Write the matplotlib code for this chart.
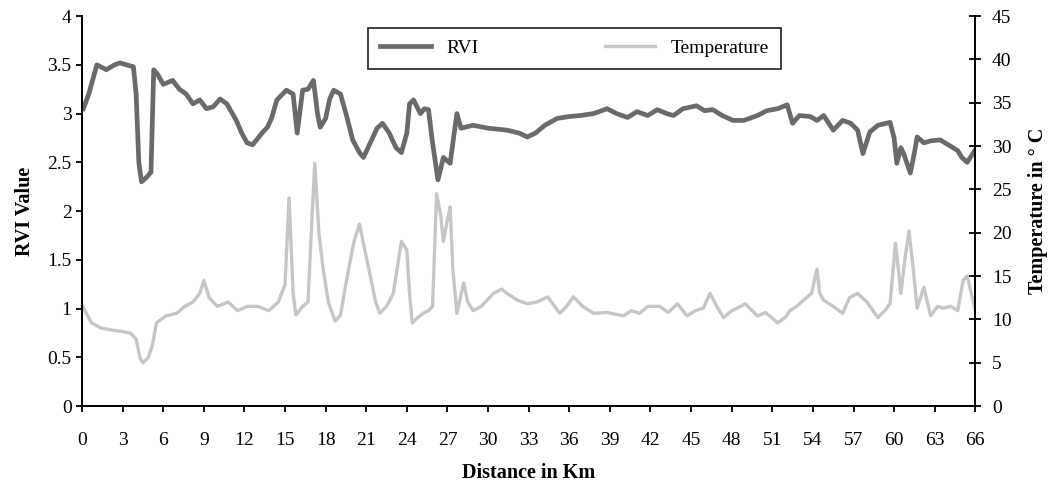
import matplotlib
matplotlib.use('Agg')
import matplotlib.pyplot as plt

# RVI along the route (left axis)
rvi_km = [0.1, 0.5, 1.1, 1.8, 2.4, 2.8, 3.3, 3.8, 4.0, 4.2, 4.4, 4.8, 5.1, 5.3, 5.6,
          6.0, 6.7, 7.2, 7.7, 8.2, 8.7, 9.2, 9.7, 10.2, 10.7, 11.4, 11.8, 12.2, 12.6,
          12.9, 13.3, 13.7, 14.0, 14.4, 15.1, 15.6, 15.9, 16.3, 16.7, 17.1, 17.4,
          17.6, 18.0, 18.3, 18.6, 19.1, 19.6, 20.0, 20.5, 20.8, 21.3, 21.8, 22.2,
          22.7, 23.2, 23.6, 24.0, 24.2, 24.5, 25.0, 25.3, 25.6, 25.9, 26.3, 26.7,
          27.2, 27.5, 27.7, 28.0, 28.9, 30.0, 31.4, 32.3, 32.9, 33.5, 34.2, 35.1,
          36.0, 36.8, 37.8, 38.8, 39.5, 40.3, 41.0, 41.8, 42.5, 43.2, 43.7, 44.4,
          45.4, 46.0, 46.6, 47.3, 48.1, 48.9, 49.9, 50.6, 51.4, 52.1, 52.5, 53.0,
          53.8, 54.3, 54.8, 55.5, 56.2, 56.8, 57.3, 57.7, 58.2, 58.8, 59.7, 60.0,
          60.2, 60.5, 60.7, 61.2, 61.5, 61.7, 62.2, 62.7, 63.4, 64.0, 64.7, 65.0,
          65.4, 66.0]
rvi = [3.05, 3.2, 3.5, 3.45, 3.5, 3.52, 3.5, 3.48, 3.2, 2.5, 2.3, 2.35, 2.4, 3.45, 3.4,
       3.3, 3.34, 3.25, 3.2, 3.1, 3.14, 3.05, 3.07, 3.15, 3.1, 2.93, 2.8, 2.7, 2.68,
       2.73, 2.8, 2.86, 2.95, 3.14, 3.24, 3.2, 2.8, 3.24, 3.25, 3.34, 3.0,
       2.86, 2.95, 3.15, 3.24, 3.2, 2.95, 2.73, 2.6, 2.55, 2.7, 2.85, 2.9,
       2.8, 2.65, 2.6, 2.8, 3.1, 3.14, 3.0, 3.05, 3.04, 2.7, 2.32, 2.55,
       2.49, 2.8, 3.0, 2.85, 2.88, 2.85, 2.83, 2.8, 2.76, 2.8, 2.88, 2.95,
       2.97, 2.98, 3.0, 3.05, 3.0, 2.96, 3.02, 2.98, 3.04, 3.0, 2.98, 3.05,
       3.08, 3.03, 3.04, 2.98, 2.93, 2.93, 2.98, 3.03, 3.05, 3.09, 2.9, 2.98,
       2.97, 2.93, 2.98, 2.83, 2.93, 2.9, 2.83, 2.59, 2.81, 2.88, 2.91, 2.75,
       2.49, 2.65, 2.59, 2.39, 2.6, 2.76, 2.7, 2.72, 2.73, 2.68, 2.62, 2.55,
       2.5, 2.63]

# temperature along the route (right axis, deg C)
temp_km = [0.05, 0.7, 1.4, 2.1, 3.0, 3.6, 4.0, 4.3, 4.5, 4.9, 5.2, 5.5, 6.2, 7.0, 7.6,
           8.2, 8.7, 9.0, 9.4, 10.0, 10.8, 11.5, 12.2, 13.0, 13.8, 14.5, 15.0, 15.3,
           15.6, 15.8, 16.3, 16.7, 17.0, 17.2, 17.5, 17.8, 18.2, 18.7, 19.1, 19.6,
           20.1, 20.5, 20.9, 21.3, 21.7, 22.0, 22.5, 23.0, 23.4, 23.6, 24.0, 24.2,
           24.4, 24.8, 25.2, 25.6, 25.9, 26.2, 26.5, 26.7, 27.0, 27.2, 27.4, 27.7,
           28.2, 28.5, 28.9, 29.5, 30.4, 31.0, 31.4, 32.2, 32.9, 33.6, 34.4, 35.3,
           35.8, 36.3, 37.0, 37.8, 38.8, 40.0, 40.6, 41.2, 41.8, 42.7, 43.3, 44.0,
           44.7, 45.3, 45.9, 46.4, 46.9, 47.4, 48.0, 48.4, 49.0, 49.9, 50.5, 51.4,
           52.0, 52.3, 52.8, 53.3, 53.9, 54.3, 54.5, 54.8, 55.5, 56.2, 56.7, 57.3,
           58.0, 58.8, 59.3, 59.7, 60.1, 60.3, 60.5, 60.8, 61.1, 61.4, 61.7, 62.2,
           62.7, 63.2, 63.6, 64.2, 64.7, 65.1, 65.4, 65.7, 66.0]
temp = [11.5, 9.6, 9.0, 8.8, 8.6, 8.4, 7.7, 5.5, 5.0, 5.6, 7.0, 9.6, 10.4, 10.7, 11.5,
        12.0, 13.0, 14.5, 12.5, 11.5, 12.0, 11.0, 11.5, 11.5, 11.0, 12.0, 14.0, 24.0,
        13.0, 10.5, 11.5, 12.0, 22.0, 28.0, 20.0, 16.0, 12.0, 9.8, 10.5, 15.0,
        19.0, 21.0, 18.0, 15.0, 12.0, 10.7, 11.5, 13.0, 17.0, 19.0, 18.0, 13.0,
        9.6, 10.2, 10.7, 11.0, 11.5, 24.5, 22.0, 19.0, 21.5, 23.0, 15.8, 10.7,
        14.2, 12.0, 11.0, 11.5, 13.0, 13.5, 13.0, 12.2, 11.8, 12.0, 12.6, 10.7,
        11.5, 12.6, 11.5, 10.7, 10.8, 10.4, 11.0, 10.7, 11.5, 11.5, 10.8, 11.8,
        10.4, 11.0, 11.3, 13.0, 11.5, 10.2, 11.0, 11.3, 11.8, 10.4, 10.8, 9.6,
        10.3, 11.0, 11.5, 12.2, 13.0, 15.8, 13.0, 12.2, 11.5, 10.7, 12.5, 13.0,
        12.0, 10.2, 11.0, 11.8, 18.8, 16.0, 13.0, 17.0, 20.2, 16.0, 11.3, 13.7,
        10.4, 11.5, 11.3, 11.5, 11.0, 14.5, 15.0, 13.0, 11.0]

plt.rcParams['font.family'] = ['Liberation Serif', 'DejaVu Serif']

fig = plt.figure(figsize=(10.51, 4.88), dpi=100)
ax = fig.add_axes([0.078, 0.168, 0.85, 0.799])
ax2 = ax.twinx()

l1, = ax.plot(rvi_km, rvi, color='#6a6a6a', lw=3.4, solid_joinstyle='round')
l2, = ax2.plot(temp_km, temp, color='#c6c6c6', lw=2.4, solid_joinstyle='round')

ax.set_xlim(0, 66)
ax.set_ylim(0, 4)
ax2.set_ylim(0, 45)
ax.set_xticks(range(0, 67, 3))
ax.set_yticks([0, 0.5, 1, 1.5, 2, 2.5, 3, 3.5, 4])
ax.set_yticklabels(['0', '0.5', '1', '1.5', '2', '2.5', '3', '3.5', '4'])
ax2.set_yticks(range(0, 46, 5))

for a in (ax, ax2):
    a.spines['top'].set_visible(False)
    for s in a.spines.values():
        s.set_linewidth(1.4)
ax.tick_params(axis='both', labelsize=14, width=1.3, length=4, direction='out')
ax.tick_params(axis='x', pad=15)
ax2.tick_params(axis='y', labelsize=14, width=1.3, length=8, direction='inout', pad=8)

ax.set_xlabel('Distance in Km', fontsize=14.5, fontweight='bold', labelpad=10)
ax.set_ylabel('RVI Value', fontsize=14.5, fontweight='bold', labelpad=9)
ax2.set_ylabel('Temperature in \u00b0 C', fontsize=14.5, fontweight='bold', labelpad=12)

leg = ax2.legend([l1, l2], ['RVI', 'Temperature'], loc='upper left',
                 bbox_to_anchor=(0.3505, 0.943), bbox_transform=fig.transFigure,
                 ncol=2, fontsize=14, frameon=True, fancybox=False,
                 handlelength=2.6, columnspacing=6.5, borderpad=0.6, borderaxespad=0)
leg.get_frame().set_edgecolor('black')
leg.get_frame().set_linewidth(1.3)

plt.savefig('out.png', dpi=100)
